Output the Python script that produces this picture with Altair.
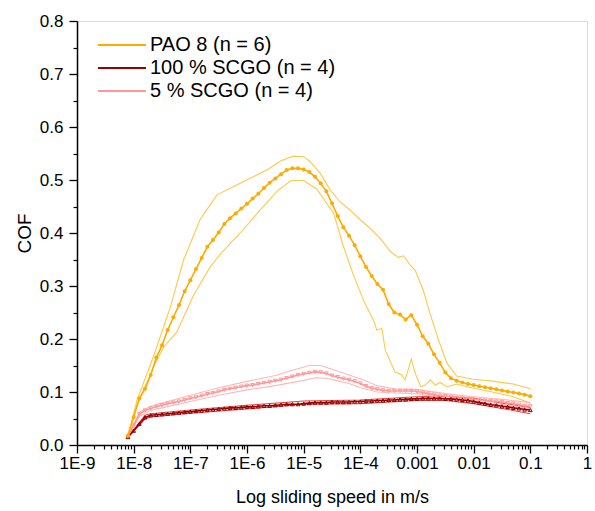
import altair as alt
import pandas as pd

SERIES = ["PAO 8 (n = 6)", "100 % SCGO (n = 4)", "5 % SCGO (n = 4)"]
MEAN_COLORS = ["#FFAA00", "#990000", "#FF9999"]
BAND_COLORS = ["#FFC84A", "#D04848", "#FFB8B8"]

X_TICK_LABELS = ["1E-9", "1E-8", "1E-7", "1E-6", "1E-5", "1E-4", "0.001", "0.01", "0.1", "1"]
X_TICK_VALUES = [1e-9, 1e-8, 1e-7, 1e-6, 1e-5, 1e-4, 1e-3, 1e-2, 1e-1, 1.0]
Y_TICK_VALUES = [0.0, 0.1, 0.2, 0.3, 0.4, 0.5, 0.6, 0.7, 0.8]
Y_MINOR_VALUES = [0.05, 0.15, 0.25, 0.35, 0.45, 0.55, 0.65, 0.75]

# log10 of sliding speed (m/s) for the mean curves
LOG_SPEED = [-8.1, -8.0, -7.9, -7.8, -7.7, -7.6, -7.5, -7.4, -7.3, -7.2,
             -7.1, -7.0, -6.9, -6.8, -6.7, -6.6, -6.5, -6.4, -6.3, -6.2,
             -6.1, -6.0, -5.9, -5.8, -5.7, -5.6, -5.5, -5.4, -5.3, -5.2,
             -5.1, -5.0, -4.9, -4.8, -4.7, -4.6, -4.5, -4.4, -4.3, -4.2,
             -4.1, -4.0, -3.9, -3.8, -3.7, -3.6, -3.5, -3.4, -3.3, -3.2,
             -3.1, -3.0, -2.9, -2.8, -2.7, -2.6, -2.5, -2.4, -2.3, -2.2,
             -2.1, -2.0, -1.9, -1.8, -1.7, -1.6, -1.5, -1.4, -1.3, -1.2,
             -1.1, -1.0]

PAO_MEAN = [0.018, 0.053, 0.088, 0.106, 0.132, 0.165, 0.188, 0.217, 0.241, 0.264,
            0.290, 0.311, 0.332, 0.353, 0.374, 0.387, 0.401, 0.417, 0.428, 0.437,
            0.446, 0.455, 0.465, 0.474, 0.485, 0.495, 0.503, 0.511, 0.519, 0.522,
            0.522, 0.520, 0.515, 0.506, 0.494, 0.479, 0.456, 0.432, 0.411, 0.395,
            0.377, 0.356, 0.336, 0.319, 0.304, 0.293, 0.266, 0.250, 0.246, 0.237,
            0.245, 0.227, 0.205, 0.191, 0.171, 0.155, 0.137, 0.126, 0.121, 0.118,
            0.115, 0.113, 0.111, 0.109, 0.107, 0.105, 0.103, 0.101, 0.099, 0.097,
            0.095, 0.092]

SCGO100_MEAN = [0.015, 0.027, 0.040, 0.052, 0.056, 0.057, 0.058, 0.059, 0.060, 0.061,
                0.062, 0.063, 0.064, 0.065, 0.066, 0.067, 0.068, 0.069, 0.070, 0.070,
                0.071, 0.072, 0.072, 0.073, 0.074, 0.074, 0.075, 0.076, 0.077, 0.077,
                0.077, 0.078, 0.079, 0.080, 0.080, 0.080, 0.081, 0.081, 0.081, 0.081,
                0.082, 0.082, 0.083, 0.083, 0.084, 0.084, 0.085, 0.085, 0.086, 0.086,
                0.087, 0.087, 0.088, 0.088, 0.088, 0.088, 0.087, 0.087, 0.086, 0.085,
                0.084, 0.082, 0.080, 0.078, 0.076, 0.075, 0.073, 0.072, 0.070, 0.069,
                0.067, 0.066]

SCGO5_MEAN = [0.015, 0.037, 0.058, 0.065, 0.069, 0.072, 0.075, 0.078, 0.080, 0.082,
              0.085, 0.088, 0.090, 0.093, 0.096, 0.098, 0.101, 0.104, 0.106, 0.108,
              0.110, 0.112, 0.113, 0.115, 0.117, 0.119, 0.121, 0.123, 0.126, 0.129,
              0.132, 0.134, 0.136, 0.138, 0.137, 0.135, 0.131, 0.128, 0.125, 0.123,
              0.120, 0.116, 0.111, 0.107, 0.105, 0.103, 0.102, 0.102, 0.102, 0.102,
              0.102, 0.101, 0.099, 0.097, 0.095, 0.093, 0.092, 0.091, 0.089, 0.088,
              0.087, 0.086, 0.085, 0.084, 0.083, 0.082, 0.081, 0.079, 0.078, 0.076,
              0.074, 0.073]

# standard-deviation envelopes (thin lines), each on its own speed samples
PAO_UPPER_LOG = [-8.1, -7.94, -7.65, -7.35, -7.12, -6.83, -6.53, -6.06, -5.65, -5.41,
                 -5.18, -5.0, -4.89, -4.71, -4.53, -4.36, -4.18, -4.0, -3.83, -3.65,
                 -3.47, -3.33, -3.24, -3.12, -3.03, -2.89, -2.77, -2.62, -2.47, -2.30,
                 -2.01, -1.71, -1.30, -1.0]
PAO_UPPER = [0.018, 0.085, 0.167, 0.261, 0.349, 0.425, 0.472, 0.497, 0.519, 0.536,
             0.545, 0.544, 0.535, 0.513, 0.481, 0.459, 0.443, 0.425, 0.409, 0.390,
             0.365, 0.354, 0.357, 0.340, 0.329, 0.292, 0.248, 0.198, 0.154, 0.130,
             0.124, 0.121, 0.115, 0.106]

PAO_LOWER_LOG = [-8.1, -7.94, -7.62, -7.47, -7.24, -6.94, -6.65, -6.47, -6.12, -5.77,
                 -5.45, -5.22, -5.0, -4.77, -4.62, -4.47, -4.30, -4.12, -3.94, -3.77,
                 -3.71, -3.62, -3.56, -3.39, -3.27, -3.21, -3.10, -3.03, -2.93, -2.86,
                 -2.76, -2.68, -2.59, -2.47, -2.30, -2.12, -1.71, -1.30, -1.0]
PAO_LOWER = [0.018, 0.075, 0.154, 0.185, 0.213, 0.283, 0.336, 0.360, 0.400, 0.443,
             0.481, 0.499, 0.499, 0.483, 0.460, 0.437, 0.375, 0.320, 0.272, 0.236,
             0.217, 0.220, 0.179, 0.138, 0.132, 0.123, 0.162, 0.135, 0.110, 0.113,
             0.123, 0.113, 0.118, 0.110, 0.115, 0.110, 0.101, 0.091, 0.079]

SCGO100_BAND_LOG = [-8.1, -7.8, -7.7, -7.0, -6.0, -5.0, -4.0, -3.0, -2.5, -2.0, -1.5, -1.0]
SCGO100_UPPER = [0.015, 0.056, 0.059, 0.066, 0.075, 0.083, 0.085, 0.091, 0.092, 0.088, 0.079, 0.071]
SCGO100_LOWER = [0.015, 0.049, 0.053, 0.060, 0.068, 0.077, 0.078, 0.084, 0.084, 0.078, 0.069, 0.059]

SCGO5_UPPER_LOG = [-8.1, -7.9, -7.7, -7.5, -7.0, -6.5, -6.0, -5.5, -5.2, -4.9, -4.7,
                   -4.5, -4.2, -4.0, -3.7, -3.4, -3.0, -2.5, -2.0, -1.5, -1.0]
SCGO5_UPPER = [0.015, 0.062, 0.073, 0.079, 0.094, 0.108, 0.120, 0.131, 0.141, 0.150, 0.150,
               0.143, 0.132, 0.125, 0.112, 0.106, 0.105, 0.097, 0.091, 0.086, 0.080]
SCGO5_LOWER_LOG = [-8.1, -7.9, -7.7, -7.5, -7.0, -6.5, -6.0, -5.5, -5.0, -4.8, -4.6,
                   -4.4, -4.2, -4.0, -3.7, -3.4, -3.0, -2.5, -2.0, -1.5, -1.0]
SCGO5_LOWER = [0.015, 0.054, 0.065, 0.070, 0.082, 0.094, 0.104, 0.112, 0.122, 0.127, 0.126,
               0.121, 0.116, 0.108, 0.100, 0.098, 0.097, 0.088, 0.082, 0.076, 0.068]


def frame(series, bound, logs, values):
    return pd.DataFrame({"series": series, "bound": bound,
                         "speed": [10 ** v for v in logs], "cof": values})


means = pd.concat([
    frame(SERIES[0], "mean", LOG_SPEED, PAO_MEAN),
    frame(SERIES[1], "mean", LOG_SPEED, SCGO100_MEAN),
    frame(SERIES[2], "mean", LOG_SPEED, SCGO5_MEAN),
])
bands = pd.concat([
    frame(SERIES[0], "upper", PAO_UPPER_LOG, PAO_UPPER),
    frame(SERIES[0], "lower", PAO_LOWER_LOG, PAO_LOWER),
    frame(SERIES[1], "upper", SCGO100_BAND_LOG, SCGO100_UPPER),
    frame(SERIES[1], "lower", SCGO100_BAND_LOG, SCGO100_LOWER),
    frame(SERIES[2], "upper", SCGO5_UPPER_LOG, SCGO5_UPPER),
    frame(SERIES[2], "lower", SCGO5_LOWER_LOG, SCGO5_LOWER),
])

FONT = "Liberation Sans"
x_scale = alt.Scale(type="log", domain=[1e-9, 1.0], nice=False)
y_scale = alt.Scale(domain=[0, 0.8], nice=False, zero=False)

label_expr = ("[" + ",".join(f"'{l}'" for l in X_TICK_LABELS) + "]"
              "[round(log(datum.value) / LN10) + 9]")

x_enc = alt.X("speed:Q", scale=x_scale, axis=alt.Axis(
    values=X_TICK_VALUES, labelExpr=label_expr, title="Log sliding speed in m/s",
    orient="bottom", grid=False, tickSize=8, tickWidth=1.3, tickColor="black",
    domainColor="black", domainWidth=1.5, labelFontSize=17, labelFont=FONT,
    labelColor="black", labelPadding=2, labelFlush=False, labelOverlap=False,
    titleFont=FONT, titleFontSize=18, titleFontWeight="normal", titleColor="black",
    titlePadding=17))
y_enc = alt.Y("cof:Q", scale=y_scale, axis=alt.Axis(
    values=Y_TICK_VALUES, format=".1f", title="COF", orient="left", grid=False,
    tickSize=8, tickWidth=1.3, tickColor="black", domainColor="black", domainWidth=1.5,
    labelFontSize=17, labelFont=FONT, labelColor="black", labelPadding=6,
    titleFont=FONT, titleFontSize=19, titleFontWeight="normal", titleColor="black",
    titlePadding=5))

layers = []
for name, bcol in zip(SERIES, BAND_COLORS):
    layers.append(
        alt.Chart(bands[bands.series == name]).mark_line(
            color=bcol, strokeWidth=1.1, clip=True).encode(
            x=x_enc, y=y_enc, detail="bound:N", order="speed:Q"))

legend = alt.Legend(orient="none", legendX=35, legendY=14, title=None,
                    symbolType="M-3,0H3", symbolSize=256, symbolStrokeWidth=1.8,
                    labelFontSize=20, labelFont=FONT, labelColor="black",
                    rowPadding=3, labelOffset=18, labelLimit=0)
color_enc = alt.Color("series:N", scale=alt.Scale(domain=SERIES, range=MEAN_COLORS),
                      legend=legend, sort=SERIES)

for name in [SERIES[2], SERIES[1], SERIES[0]]:
    layers.append(
        alt.Chart(means[means.series == name]).mark_line(strokeWidth=1.6).encode(
            x=x_enc, y=y_enc, color=color_enc, order="speed:Q"))

POINT_STYLE = {
    SERIES[0]: dict(shape="circle", filled=True, size=16),
    SERIES[1]: dict(shape="triangle-up", filled=False, size=14, strokeWidth=1),
    SERIES[2]: dict(shape="triangle-down", filled=False, size=14, strokeWidth=1),
}
for name, mcol in [(SERIES[2], MEAN_COLORS[2]), (SERIES[1], MEAN_COLORS[1]),
                   (SERIES[0], MEAN_COLORS[0])]:
    layers.append(
        alt.Chart(means[means.series == name]).mark_point(
            color=mcol, opacity=1, **POINT_STYLE[name]).encode(x=x_enc, y=y_enc))

main = alt.layer(*layers)

minor_x = [k * 10 ** d for d in range(-9, 0) for k in range(2, 10)]
minor = alt.Chart(means).mark_point(opacity=0).encode(
    x=alt.X("speed:Q", scale=x_scale, axis=alt.Axis(
        values=minor_x, labels=False, domain=False, grid=False, tickSize=4,
        tickWidth=1.2, tickColor="black", title=None, orient="bottom")),
    y=alt.Y("cof:Q", scale=y_scale, axis=alt.Axis(
        values=Y_MINOR_VALUES, labels=False, domain=False, grid=False, tickSize=4,
        tickWidth=1.2, tickColor="black", title=None, orient="left")),
)

chart = alt.layer(main, minor).resolve_axis(x="independent", y="independent").properties(
    width=510, height=424, autosize="none",
    padding={"left": 77, "top": 21, "right": 8, "bottom": 66},
).configure_view(stroke=None).configure(background="white")

chart.save("out.html", embed_options={"renderer": "svg", "actions": False})
